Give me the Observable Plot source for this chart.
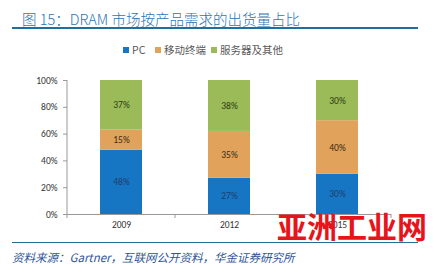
<!DOCTYPE html>
<html><head><meta charset="utf-8">
<script src="https://cdn.jsdelivr.net/npm/d3@7"></script>
<script src="https://cdn.jsdelivr.net/npm/@observablehq/plot@0.6"></script>
<style>
body{margin:0;background:#fff;width:436px;height:275px;position:relative;overflow:hidden;font-family:"Microsoft YaHei","Noto Sans CJK SC",sans-serif;}
#title{position:absolute;left:12px;top:0;width:406px;height:27px;border-bottom:2px solid #1f6e9c;}
#title span{position:absolute;left:10px;top:8px;font-size:14.5px;font-weight:300;color:#2e74b5;white-space:nowrap;}
#legend{position:absolute;left:0;top:42px;width:436px;height:16px;font-size:10.5px;color:#595959;}
#legend .it{position:absolute;top:0;white-space:nowrap;line-height:16px;}
#legend .sw{display:inline-block;width:6px;height:6px;margin-right:3px;vertical-align:1px;}
#chart{position:absolute;left:0;top:70px;}
#foot{position:absolute;left:12px;top:242px;width:406px;border-top:1px solid #1f6e9c;}
#foot span{position:absolute;left:0;top:6px;font-size:11.5px;font-style:italic;color:#2f5597;white-space:nowrap;}
#wm{position:absolute;left:277px;top:203px;font-size:30px;font-weight:700;color:#e8141b;white-space:nowrap;font-family:"Noto Sans CJK SC",sans-serif;}
</style></head>
<body>
<div id="title"><span>图 15：DRAM 市场按产品需求的出货量占比</span></div>
<div id="legend"></div>
<div id="chart"></div>
<div id="foot"><span>资料来源：Gartner，互联网公开资料，华金证券研究所</span></div>
<div id="wm">亚洲工业网</div>
<script>
const years = ["2009", "2012", "2015"];
const seriesNames = ["PC", "移动终端", "服务器及其他"];
const pcValues = [48, 27, 30];
const mobileValues = [15, 35, 40];
const serverValues = [37, 38, 30];
const seriesColors = ["#1776c3", "#e1a25c", "#9bbb59"];
const labelColors = ["#1f3d6b", "#3a2a10", "#2c3a10"];
const yTicks = [0, 0.2, 0.4, 0.6, 0.8, 1];

const allValues = [pcValues, mobileValues, serverValues];
const data = [];
years.forEach((yr, i) => {
  seriesNames.forEach((s, j) => {
    data.push({year: yr, series: s, value: allValues[j][i] / 100, order: j});
  });
});

// legend
const legendPos = [123, 155, 211];
const legend = document.getElementById("legend");
seriesNames.forEach((s, j) => {
  const d = document.createElement("div");
  d.className = "it";
  d.style.left = legendPos[j] + "px";
  d.innerHTML = `<span class="sw" style="background:${seriesColors[j]}"></span>${s}`;
  legend.appendChild(d);
});

const H = 170;
const plot = Plot.plot({
  width: 436,
  height: H,
  marginTop: 10,
  marginBottom: 26,
  marginLeft: 67,
  marginRight: 45,
  style: {fontFamily: "Calibri, Carlito, 'Liberation Sans', sans-serif", fontSize: "9.5px", color: "#333"},
  x: {domain: years, paddingInner: 0.611, paddingOuter: 0.3055, label: null, axis: null},
  y: {domain: [0, 1], ticks: yTicks, tickFormat: d => Math.round(d * 100) + "%", label: null, axis: null},
  color: {domain: seriesNames, range: seriesColors},
  marks: [
    Plot.barY(data, Plot.stackY({x: "year", y: "value", fill: "series", order: "order"})),
    Plot.text(data, Plot.stackY({x: "year", y: "value", z: "series", order: "order",
      text: d => Math.round(d.value * 100) + "%",
      fill: d => labelColors[d.order], fontSize: 9.5})),
    Plot.axisY({ticks: yTicks, tickFormat: d => Math.round(d * 100) + "%", tickSize: 4, tickPadding: 6, stroke: "#999", color: "#333", label: null}),
    Plot.ruleY([0], {stroke: "#999"}),
    Plot.axisX({tickSize: 0, tickPadding: 7, color: "#333", label: null})
  ]
});
document.getElementById("chart").appendChild(plot);

// category boundary ticks and y-axis line via scales
const xs = plot.scale("x"), ys = plot.scale("y");
const half = (xs.step - xs.bandwidth) / 2;
const svg = d3.select(plot);
const y0 = ys.apply(0), y1 = ys.apply(1);
const bounds = years.map(y => xs.apply(y) - half).concat([xs.apply(years[years.length - 1]) + xs.bandwidth + half]);
svg.append("line").attr("x1", bounds[0]).attr("x2", bounds[0]).attr("y1", y0).attr("y2", y1).attr("stroke", "#999");
bounds.forEach(b => {
  svg.append("line").attr("x1", b).attr("x2", b).attr("y1", y0).attr("y2", y0 + 4).attr("stroke", "#999");
});
</script>
</body></html>
